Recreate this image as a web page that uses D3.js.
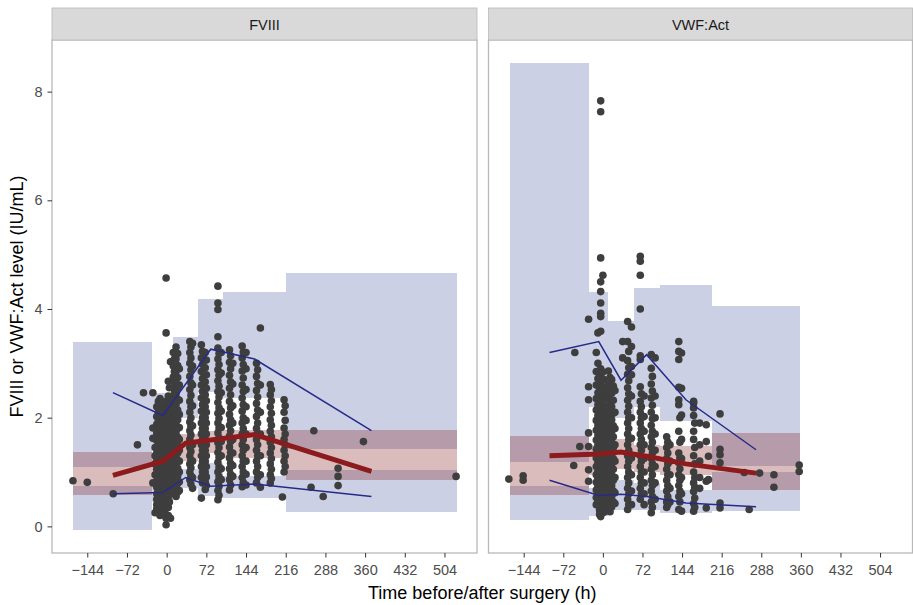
<!DOCTYPE html>
<html>
<head>
<meta charset="utf-8">
<script src="https://cdn.jsdelivr.net/npm/d3@7"></script>
<style>
  body { margin: 0; background: #fff; }
  svg { display: block; font-family: "Liberation Sans", Arial, Helvetica, sans-serif; }
</style>
</head>
<body>
<svg id="chart" width="913" height="605"></svg>
<script>
// ---- axis ticks ----
const timeTicks = [-144, -72, 0, 72, 144, 216, 288, 360, 432, 504];
const levelTicks = [0, 2, 4, 6, 8];

// ---- FVIII: time bins and simulated percentile intervals ----
const fviiiBinEdges = [-169, -26, 12, 57, 103, 216, 527];
const fviiiP5Lo  = [-0.07, 0.44, 0.71, 0.55, 0.52, 0.26];
const fviiiP5Hi  = [0.735, 0.80, 1.05, 1.17, 0.92, 1.04];
const fviiiP95Lo = [1.085, 1.45, 2.00, 2.48, 2.36, 1.42];
const fviiiP95Hi = [3.40, 2.45, 3.48, 4.18, 4.31, 4.66];
const fviiiMedLo = [0.58, 0.85, 1.20, 1.35, 1.25, 0.85];
const fviiiMedHi = [1.36, 1.35, 1.70, 1.75, 1.78, 1.78];
// observed percentiles at bin midpoints
const fviiiLineTimes = [-97.5, -7, 34.5, 80, 159.5, 371.5];
const fviiiObsP5  = [0.60, 0.625, 0.90, 0.74, 0.78, 0.55];
const fviiiObsMed = [0.94, 1.20, 1.53, 1.59, 1.69, 1.01];
const fviiiObsP95 = [2.46, 2.04, 2.62, 3.26, 3.08, 1.76];

// ---- VWF:Act: time bins and simulated percentile intervals ----
const vwfBinEdges = [-169, -25, 10, 56, 103, 199, 358];
const vwfP5Lo  = [0.11, 0.20, 0.30, 0.30, 0.25, 0.276];
const vwfP5Hi  = [0.75, 0.70, 0.85, 0.80, 0.675, 1.006];
const vwfP95Lo = [1.18, 2.20, 2.00, 2.20, 1.94, 1.12];
const vwfP95Hi = [8.52, 4.32, 3.77, 4.38, 4.45, 4.06];
const vwfMedLo = [0.58, 0.95, 1.05, 1.00, 0.95, 0.675];
const vwfMedHi = [1.67, 1.50, 1.60, 1.50, 1.48, 1.72];
const vwfLineTimes = [-97, -7.5, 33, 79.5, 151, 278.5];
const vwfObsP5  = [0.85, 0.57, 0.59, 0.55, 0.43, 0.36];
const vwfObsMed = [1.30, 1.33, 1.37, 1.29, 1.15, 0.98];
const vwfObsP95 = [3.20, 3.40, 2.69, 3.16, 2.33, 1.41];

// ---- observations: [time (h), level, level, ...] ----
const fviiiObs = [
  [-170, 0.84], [-144, 0.81], [-97, 0.60], [-53, 1.50], [-42, 2.46],
  [-25, 2.46, 1.81, 1.62, 0.80],
  [-21, 1.45, 1.30, 1.15, 0.95, 0.25],
  [-18, 2.20, 2.02, 1.88, 1.72, 1.58, 1.45, 1.35, 1.25, 1.15, 1.05, 0.95, 0.84, 0.72, 0.60, 0.50, 0.40, 0.32],
  [-15, 2.30, 2.10, 1.95, 1.80, 1.65, 1.50, 1.40, 1.30, 1.20, 1.10, 1.00, 0.90, 0.78, 0.66, 0.55, 0.45],
  [-12, 2.35, 2.22, 2.08, 1.94, 1.82, 1.70, 1.58, 1.47, 1.37, 1.27, 1.17, 1.07, 0.97, 0.87, 0.77, 0.67, 0.56, 0.44, 0.31, 0.20],
  [-9, 2.25, 2.15, 2.00, 1.88, 1.76, 1.64, 1.52, 1.42, 1.32, 1.22, 1.12, 1.02, 0.92, 0.82, 0.72, 0.62, 0.50, 0.38, 0.25],
  [-6, 2.12, 1.98, 1.86, 1.74, 1.62, 1.51, 1.41, 1.31, 1.21, 1.11, 1.01, 0.91, 0.81, 0.71, 0.61, 0.51, 0.41, 0.30],
  [-4, 2.20, 2.05, 1.92, 1.80, 1.68, 1.56, 1.46, 1.36, 1.26, 1.16, 1.06, 0.96, 0.86, 0.76, 0.66, 0.56, 0.46, 0.36, 0.25],
  [-1, 4.57, 3.56, 2.30, 1.98, 1.72, 1.50, 1.30, 1.10, 0.90, 0.70, 0.50, 0.33, 0.15, 0.03],
  [1, 2.18, 1.85, 1.60, 1.40, 1.20, 1.00, 0.80, 0.60, 0.42],
  [3, 2.67, 2.40, 2.15, 1.95, 1.75, 1.55, 1.35, 1.15, 0.95, 0.75, 0.55, 0.35, 0.20],
  [5, 2.55, 2.28, 2.05, 1.85, 1.65, 1.45, 1.25, 1.05, 0.85, 0.65, 0.45],
  [7, 3.03, 2.25, 2.00, 1.80, 1.60, 1.40, 1.20, 1.00, 0.80, 0.60, 0.15],
  [12, 3.20, 2.95, 2.75, 2.55, 2.35, 2.15, 1.98, 1.82, 1.66, 1.50, 1.35, 1.20, 1.05, 0.90, 0.75, 0.62],
  [14, 3.08, 2.85, 2.65, 2.45, 2.25, 2.06, 1.90, 1.74, 1.58, 1.42, 1.27, 1.12, 0.97, 0.82, 0.68],
  [17, 3.30, 3.08, 2.85, 2.64, 2.44, 2.24, 2.05, 1.88, 1.72, 1.56, 1.42, 1.28, 1.14, 1.00, 0.86, 0.72, 0.55],
  [20, 3.18, 2.96, 2.74, 2.54, 2.34, 2.14, 1.96, 1.80, 1.64, 1.49, 1.35, 1.21, 1.07, 0.93, 0.79, 0.63],
  [23, 2.90, 2.60, 2.32, 2.06, 1.82, 1.60, 1.40, 1.20, 1.00, 0.82, 0.66],
  [42, 3.40, 3.20, 3.00, 2.76, 2.52, 2.30, 2.10, 1.92, 1.76, 1.60, 1.45, 1.30, 1.15, 1.00, 0.86],
  [44, 3.30, 3.10, 2.88, 2.64, 2.41, 2.20, 2.00, 1.84, 1.68, 1.52, 1.38, 1.22, 1.08, 0.93, 0.78],
  [47, 3.37, 2.95, 2.60, 2.22, 1.85, 1.50, 1.20, 0.90, 0.70],
  [63, 3.34, 3.10, 2.85, 2.60, 2.36, 2.12, 1.90, 1.70, 1.50, 1.30, 1.10, 0.90, 0.52],
  [65, 3.22, 2.98, 2.72, 2.48, 2.24, 2.00, 1.80, 1.60, 1.40, 1.20, 1.00, 0.80],
  [70, 3.20, 2.92, 2.66, 2.42, 2.20, 2.00, 1.80, 1.60, 1.40, 1.20, 1.00, 0.82, 0.68],
  [72, 3.06, 2.79, 2.54, 2.31, 2.10, 1.90, 1.70, 1.50, 1.30, 1.10, 0.91, 0.75],
  [93, 4.42, 4.11, 3.99, 3.49, 3.28, 3.08, 2.88, 2.68, 2.48, 2.28, 2.08, 1.90, 1.72, 1.54, 1.36, 1.18, 1.00, 0.82, 0.66, 0.49],
  [95, 3.18, 2.98, 2.78, 2.58, 2.38, 2.18, 1.99, 1.81, 1.63, 1.45, 1.27, 1.09, 0.91, 0.74, 0.57],
  [99, 3.20, 2.82, 2.46, 2.12, 1.82, 1.56, 1.30, 1.06, 0.86],
  [114, 3.25, 3.02, 2.78, 2.54, 2.30, 2.06, 1.86, 1.66, 1.46, 1.26, 1.06, 0.86, 0.67],
  [116, 3.14, 2.90, 2.66, 2.42, 2.18, 1.96, 1.76, 1.56, 1.36, 1.16, 0.96, 0.76],
  [120, 3.00, 2.62, 2.22, 1.90, 1.60, 1.35, 1.12, 0.92],
  [137, 3.32, 3.10, 2.86, 2.60, 2.36, 2.12, 1.90, 1.70, 1.50, 1.30, 1.10, 0.90, 0.73],
  [139, 3.21, 2.98, 2.73, 2.48, 2.24, 2.00, 1.80, 1.60, 1.40, 1.20, 1.00, 0.81],
  [144, 3.20, 2.90, 2.52, 2.20, 1.95, 1.70, 1.45, 1.20, 0.96, 0.76],
  [163, 3.00, 2.76, 2.50, 2.26, 2.02, 1.80, 1.60, 1.40, 1.20, 1.00, 0.80],
  [165, 2.88, 2.63, 2.38, 2.14, 1.90, 1.70, 1.50, 1.30, 1.10, 0.90],
  [170, 3.65, 2.60, 2.10, 1.70, 1.30, 0.95, 0.72],
  [188, 2.61, 2.42, 2.20, 1.96, 1.75, 1.55, 1.35, 1.15, 0.95, 0.80],
  [190, 2.52, 2.31, 2.08, 1.86, 1.65, 1.45, 1.25, 1.05, 0.88],
  [213, 2.33, 2.10, 1.81, 1.60, 1.40, 1.20, 1.00],
  [215, 2.22, 1.95, 1.70, 1.50, 1.30, 1.10],
  [210, 0.54], [262, 0.72], [267, 1.76], [284, 0.55],
  [311, 1.07, 0.92, 0.75], [357, 1.56], [525, 0.92]
];

const vwfObs = [
  [-171, 0.87], [-145, 0.93, 0.85], [-53, 1.12], [-51, 3.20], [-42, 1.47],
  [-26, 3.81, 2.57, 2.33, 1.72, 1.47, 1.04, 0.83],
  [-12, 3.20, 2.85, 2.60, 2.35, 2.14, 1.95, 1.77, 1.59, 1.42, 1.26, 1.10, 0.95, 0.81, 0.67, 0.53, 0.40],
  [-9, 3.56, 3.00, 2.72, 2.46, 2.24, 2.04, 1.86, 1.68, 1.50, 1.34, 1.18, 1.02, 0.88, 0.74, 0.60, 0.46],
  [-6, 2.83, 2.69, 2.55, 2.41, 2.27, 2.13, 1.99, 1.85, 1.71, 1.57, 1.43, 1.29, 1.15, 1.01, 0.87, 0.73, 0.59, 0.45, 0.30, 0.22],
  [-4, 7.83, 7.63, 4.94, 4.50, 4.32, 4.11, 3.92, 3.86, 3.59, 2.90, 2.76, 2.62, 2.48, 2.34, 2.20, 2.06, 1.92, 1.78, 1.64, 1.50, 1.36, 1.22, 1.08, 0.94, 0.80, 0.66, 0.52, 0.38, 0.18],
  [0, 4.62, 2.84, 2.56, 2.32, 2.12, 1.94, 1.78, 1.62, 1.47, 1.32, 1.18, 1.04, 0.90, 0.76, 0.62, 0.48, 0.34],
  [2, 2.70, 2.44, 2.22, 2.03, 1.86, 1.70, 1.54, 1.39, 1.25, 1.11, 0.97, 0.83, 0.69, 0.55, 0.41, 0.26],
  [5, 2.50, 2.20, 1.96, 1.72, 1.50, 1.30, 1.10, 0.90, 0.70, 0.50, 0.30],
  [7, 2.35, 2.08, 1.84, 1.61, 1.40, 1.20, 1.00, 0.80, 0.60, 0.40],
  [10, 2.86, 2.62, 2.40, 2.20, 2.02, 1.84, 1.68, 1.52, 1.37, 1.22, 1.07, 0.92, 0.77, 0.62, 0.47, 0.32],
  [13, 2.74, 2.51, 2.30, 2.11, 1.93, 1.76, 1.60, 1.45, 1.30, 1.15, 1.00, 0.85, 0.70, 0.55, 0.40, 0.27],
  [16, 2.70, 2.45, 2.20, 1.96, 1.75, 1.55, 1.35, 1.15, 0.95, 0.75, 0.55, 0.36],
  [19, 2.58, 2.32, 2.08, 1.85, 1.65, 1.45, 1.25, 1.05, 0.85, 0.65, 0.45],
  [22, 2.50, 2.10, 1.80, 1.50, 1.20, 0.90, 0.62, 0.42],
  [36, 3.40, 3.10],
  [45, 3.77, 3.40, 3.05, 2.80, 2.55, 2.32, 2.10, 1.90, 1.70, 1.50, 1.30, 1.10, 0.90, 0.70, 0.50, 0.31],
  [47, 3.22, 2.92, 2.68, 2.44, 2.21, 2.00, 1.80, 1.60, 1.40, 1.20, 1.00, 0.80, 0.60, 0.40],
  [52, 3.67, 3.31, 2.94, 2.79, 2.40, 2.00, 1.62, 1.26, 0.95, 0.65, 0.40],
  [68, 4.97, 4.88, 4.62, 4.00, 3.14, 3.07, 2.57, 2.30, 2.10, 1.90, 1.70, 1.50, 1.30, 1.10, 0.90, 0.70, 0.50],
  [70, 2.44, 2.20, 2.00, 1.80, 1.60, 1.40, 1.20, 1.00, 0.80, 0.60],
  [75, 2.40, 2.02, 1.75, 1.50, 1.25, 1.00, 0.80, 0.60, 0.40],
  [88, 3.16, 2.91, 2.62, 2.36, 2.10, 1.86, 1.65, 1.45, 1.25, 1.05, 0.85, 0.65, 0.45, 0.25],
  [90, 2.76, 2.49, 2.23, 1.98, 1.75, 1.55, 1.35, 1.15, 0.95, 0.75, 0.55, 0.35],
  [95, 3.10, 2.40, 2.00, 1.70, 1.40, 1.10, 0.80, 0.50],
  [116, 1.65, 1.45, 1.25, 1.05, 0.85, 0.65, 0.45, 0.35],
  [118, 1.55, 1.35, 1.15, 0.95, 0.75, 0.55, 0.40],
  [122, 1.50, 1.20, 0.95, 0.70, 0.45],
  [138, 3.40, 3.22, 3.07, 2.56, 2.33, 2.24, 1.75, 1.35, 1.17, 0.95, 0.75, 0.55, 0.31],
  [140, 2.00, 1.55, 1.26, 1.06, 0.85, 0.65, 0.45],
  [143, 3.19, 2.54, 2.05, 1.60, 1.25, 0.90, 0.60, 0.28],
  [165, 2.30, 2.27, 2.18, 2.04, 1.75, 1.60, 1.30, 1.00, 0.80, 0.64, 0.42, 0.28],
  [167, 1.90, 1.45, 1.15, 0.90, 0.72, 0.52, 0.35],
  [176, 1.90, 1.50, 1.20, 0.90, 0.70],
  [188, 1.87, 1.56, 0.83, 0.34],
  [192, 1.29, 0.86],
  [213, 2.07, 1.42, 1.32, 1.17, 0.43, 0.34],
  [257, 0.99], [266, 0.31], [285, 0.98], [311, 0.95, 0.72], [357, 1.13, 1.01]
];

// ---- panels ----
const panels = [
  { title: "FVIII", left: 52, right: 477,
    edges: fviiiBinEdges, p5: [fviiiP5Lo, fviiiP5Hi], p95: [fviiiP95Lo, fviiiP95Hi], med: [fviiiMedLo, fviiiMedHi],
    lineTimes: fviiiLineTimes, obsP5: fviiiObsP5, obsMed: fviiiObsMed, obsP95: fviiiObsP95, obs: fviiiObs },
  { title: "VWF:Act", left: 488.5, right: 912.5,
    edges: vwfBinEdges, p5: [vwfP5Lo, vwfP5Hi], p95: [vwfP95Lo, vwfP95Hi], med: [vwfMedLo, vwfMedHi],
    lineTimes: vwfLineTimes, obsP5: vwfObsP5, obsMed: vwfObsMed, obsP95: vwfObsP95, obs: vwfObs }
];

const plotTop = 40, plotBottom = 553, stripTop = 8;
const svg = d3.select("#chart");

const y = d3.scaleLinear().domain([-0.49, 8.95]).range([plotBottom, plotTop]);

const colors = {
  piFill: "#cbd0e4",
  medFill: "#872026",
  medAlpha: 0.3,
  point: "#3e3e3e",
  pctLine: "#262b88",
  medLine: "#8c1b1d",
  border: "#b8b8b8",
  strip: "#d9d9d9"
};

panels.forEach(p => {
  const x = d3.scaleLinear().domain([-208, 563]).range([p.left, p.right]);
  const g = svg.append("g");

  g.append("rect")
    .attr("x", p.left).attr("y", plotTop)
    .attr("width", p.right - p.left).attr("height", plotBottom - plotTop)
    .attr("fill", "#fff");

  const bins = d3.range(p.edges.length - 1);

  // simulated 5th and 95th percentile intervals
  [p.p5, p.p95].forEach(([lo, hi]) => {
    g.append("g").attr("shape-rendering", "crispEdges")
      .selectAll("rect").data(bins).join("rect")
      .attr("x", i => x(p.edges[i]))
      .attr("width", i => x(p.edges[i + 1]) - x(p.edges[i]))
      .attr("y", i => y(hi[i]))
      .attr("height", i => y(lo[i]) - y(hi[i]))
      .attr("fill", colors.piFill);
  });

  // simulated median interval
  g.append("g").attr("shape-rendering", "crispEdges")
    .selectAll("rect").data(bins).join("rect")
    .attr("x", i => x(p.edges[i]))
    .attr("width", i => x(p.edges[i + 1]) - x(p.edges[i]))
    .attr("y", i => y(p.med[1][i]))
    .attr("height", i => y(p.med[0][i]) - y(p.med[1][i]))
    .attr("fill", colors.medFill)
    .attr("fill-opacity", colors.medAlpha);

  // observations
  const pts = p.obs.flatMap(([t, ...vals]) => vals.map(v => ({ t, v })));
  g.append("g").selectAll("circle").data(pts).join("circle")
    .attr("cx", d => x(d.t))
    .attr("cy", d => y(d.v))
    .attr("r", 3.8)
    .attr("fill", colors.point);

  // observed percentile lines
  const line = vals => d3.line().x(t => x(t)).y((t, i) => y(vals[i]))(p.lineTimes);
  [p.obsP5, p.obsP95].forEach(vals => {
    g.append("path").attr("d", line(vals))
      .attr("fill", "none").attr("stroke", colors.pctLine).attr("stroke-width", 1.5);
  });
  g.append("path").attr("d", line(p.obsMed))
    .attr("fill", "none").attr("stroke", colors.medLine).attr("stroke-width", 5);

  // panel border
  g.append("rect")
    .attr("x", p.left).attr("y", plotTop)
    .attr("width", p.right - p.left).attr("height", plotBottom - plotTop)
    .attr("fill", "none").attr("stroke", colors.border).attr("stroke-width", 1.3);

  // strip
  g.append("rect")
    .attr("x", p.left).attr("y", stripTop)
    .attr("width", p.right - p.left).attr("height", plotTop - stripTop)
    .attr("fill", colors.strip).attr("stroke", colors.border).attr("stroke-width", 0.8);
  g.append("text")
    .attr("x", (p.left + p.right) / 2).attr("y", 29.5)
    .attr("text-anchor", "middle")
    .attr("font-size", 14.5).attr("fill", "#1a1a1a")
    .text(p.title);

  // x axis
  const xa = g.append("g").attr("transform", `translate(0,${plotBottom})`)
    .call(d3.axisBottom(x).tickValues(timeTicks).tickSize(4.5).tickPadding(7.5));
  xa.select(".domain").remove();
  xa.selectAll("line").attr("stroke", "#333").attr("stroke-width", 1);
  xa.selectAll("text").attr("font-size", 14.5).attr("fill", "#4d4d4d")
    .attr("font-family", "Liberation Sans, Arial, sans-serif");
});

// y axis (left panel only)
const ya = svg.append("g").attr("transform", `translate(${panels[0].left},0)`)
  .call(d3.axisLeft(y).tickValues(levelTicks).tickSize(4.5).tickPadding(5));
ya.select(".domain").remove();
ya.selectAll("line").attr("stroke", "#333").attr("stroke-width", 1);
ya.selectAll("text").attr("font-size", 14.5).attr("fill", "#4d4d4d")
  .attr("font-family", "Liberation Sans, Arial, sans-serif");

// axis titles
svg.append("text")
  .attr("transform", `translate(23,${(plotTop + plotBottom) / 2}) rotate(-90)`)
  .attr("text-anchor", "middle")
  .attr("font-size", 18).attr("fill", "#000")
  .text("FVIII or VWF:Act level (IU/mL)");

svg.append("text")
  .attr("x", (panels[0].left + panels[1].right) / 2).attr("y", 599)
  .attr("text-anchor", "middle")
  .attr("font-size", 18).attr("fill", "#000")
  .text("Time before/after surgery (h)");
</script>
</body>
</html>
